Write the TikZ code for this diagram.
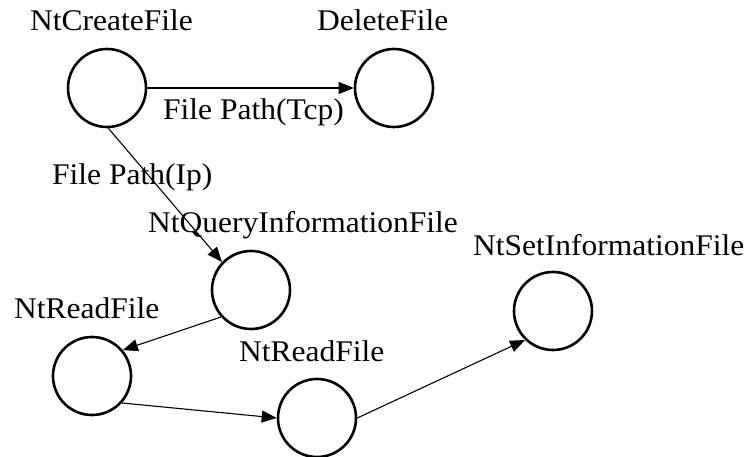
\documentclass[tikz,border=0pt]{standalone}
\usepackage{fontspec}
\setmainfont{Liberation Serif}[FakeStretch=1.05]
\usetikzlibrary{arrows.meta}
\begin{document}
\begin{tikzpicture}[x=1pt,y=-1pt,
  state/.style={draw,circle,minimum size=78pt,inner sep=0pt,line width=2.6pt},
  lbl/.style={anchor=base west,inner sep=0pt,font=\fontsize{30}{36}\selectfont},
  edge/.style={line width=1.1pt,-{Triangle[length=15pt,width=12pt]}}]
\useasboundingbox[fill=white] (0,0) rectangle (750,457);
\node[state] (create) at (107,88) {};
\node[state] (delete) at (394,88) {};
\node[state] (query) at (251,290) {};
\node[state] (read1) at (92,376) {};
\node[state] (read2) at (317,418) {};
\node[state] (set) at (553,311) {};
\node[lbl] (lcreate) at (30,31) {NtCreateFile};
\node[lbl] (ldelete) at (317,31) {DeleteFile};
\node[lbl] (lquery) at (148,233) {NtQueryInformationFile};
\node[lbl] (lread1) at (14,319) {NtReadFile};
\node[lbl] (lread2) at (239,361) {NtReadFile};
\node[lbl] (lset) at (473,255) {NtSetInformationFile};
\node[lbl] (ltcp) at (163,120) {File Path(Tcp)};
\node[lbl] (lip) at (52,185) {File Path(Ip)};
\draw[edge] (create.east) -- (delete.west);
\draw[edge] (create.-88) -- (query.136);
\draw[edge] (query.222) -- (read1.40);
\draw[edge] (read1.-42) -- (read2.west);
\draw[edge] (read2.east) -- (set.226);
\end{tikzpicture}
\end{document}
